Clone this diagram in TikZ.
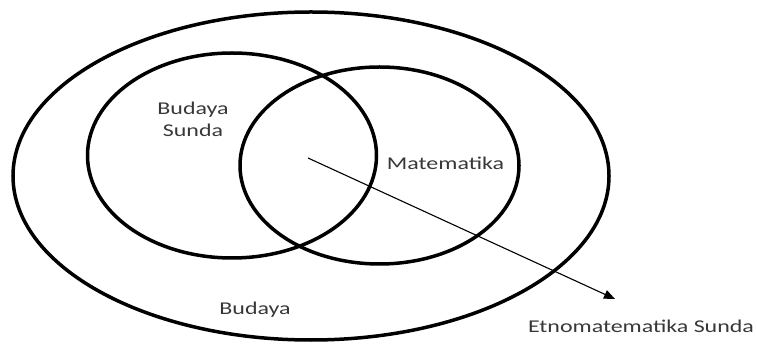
\documentclass[tikz,border=0pt]{standalone}
\usepackage{fontspec}
\setmainfont{Carlito}
\usetikzlibrary{arrows.meta}
\begin{document}
\begin{tikzpicture}[x=1pt,y=-1pt,
  ring/.style={draw=black,line width=3.5pt},
  lbl/.style={font=\fontsize{18}{22}\selectfont,text=black!78,anchor=base,align=center,inner sep=0pt,xscale=1.33,transform shape},
  pointer/.style={draw=black,line width=1.1pt,-{Triangle[length=11pt,width=9pt]}}]
\useasboundingbox (0,0) rectangle (757,344);
\draw[ring] (311,176) ellipse [x radius=298,y radius=164];
\draw[ring] (232,155.5) ellipse [x radius=144.5,y radius=102.5];
\draw[ring] (379.5,165.5) ellipse [x radius=139.5,y radius=98.5];
\node[lbl] (bs) at (193,137) {Budaya\\Sunda};
\node[lbl] (mat) at (445.5,170) {Matematika};
\node[lbl] (bud) at (255,314.5) {Budaya};
\node[lbl] (ets) at (641,332.5) {Etnomatematika Sunda};
\coordinate (from) at (308,158);
\coordinate (to) at (615,299);
\draw[pointer] (from) -- (to);
\end{tikzpicture}
\end{document}
